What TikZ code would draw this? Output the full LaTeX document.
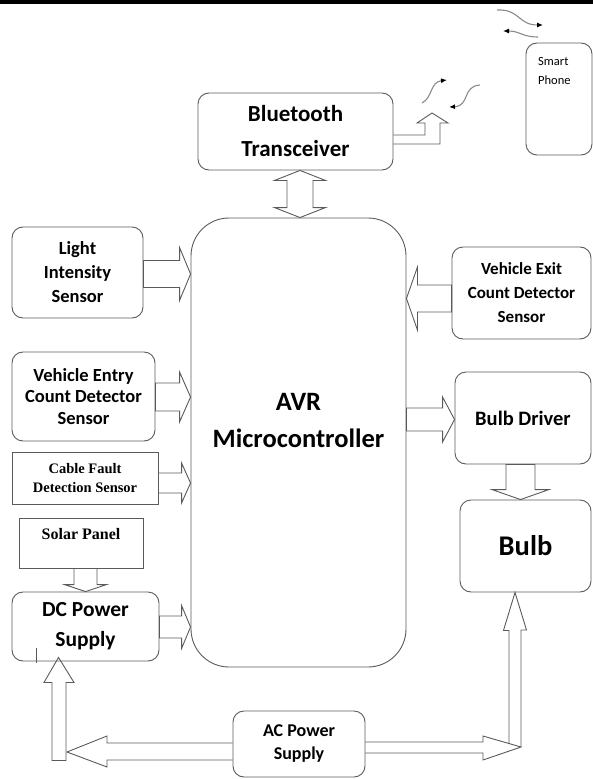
\documentclass[tikz,border=0pt]{standalone}
\usepackage{fontspec}
\setmainfont{Carlito}
\newfontfamily\serifbold{Liberation Serif}
\usetikzlibrary{calc,arrows.meta}
\definecolor{linegray}{HTML}{5A5A5A}
\definecolor{wavegray}{HTML}{8A8A8A}

% outlined block arrow: #1 start, #2 tip, #3 half shaft width, #4 half head width, #5 head length
\newcommand\blkarrow[5]{%
  \coordinate (ba-h) at ($(#2)!#5!(#1)$);
  \draw[blk] ($(#1)!#3!90:(#2)$) -- ($(ba-h)!#3!-90:(#1)$) -- ($(ba-h)!#4!-90:(#1)$)
    -- (#2) -- ($(ba-h)!#4!90:(#1)$) -- ($(ba-h)!#3!90:(#1)$) -- ($(#1)!#3!-90:(#2)$) -- cycle;}

\begin{document}
\begin{tikzpicture}[x=1pt,y=-1pt,
  box/.style={draw=linegray, line width=0.9pt, rounded corners=11pt, inner sep=0pt, align=center},
  sqbox/.style={draw=linegray, line width=0.9pt, inner sep=0pt, align=center},
  blk/.style={draw=linegray, line width=0.9pt, line join=miter},
  wave/.style={draw=wavegray, line width=1.1pt, -{Latex[length=6pt,width=5pt,black]}},
  fnt/.style 2 args={font=\fontsize{#1}{#2}\selectfont\bfseries},
]
\useasboundingbox (0,0) rectangle (593,779);
\fill[black] (0,0) rectangle (593,4);

% ---------- blocks ----------
\node[box, minimum width=131pt, minimum height=91pt, fnt={18.5}{24}] (light) at (77.5,272.5) {Light\\Intensity\\Sensor};
\node[box, minimum width=143pt, minimum height=89pt, fnt={18.5}{21.5}] (entry) at (83.5,396.5) {Vehicle Entry\\Count Detector\\Sensor};
\node[sqbox, minimum width=146pt, minimum height=52pt, font=\fontsize{14.5}{19}\selectfont\serifbold\bfseries] (cable) at (85,478) {Cable Fault\\Detection Sensor};
\node[sqbox, minimum width=124pt, minimum height=50pt] (solar) at (81,543) {};
\node[font=\fontsize{16}{19}\selectfont\serifbold\bfseries, inner sep=0pt] (solartxt) at (81,534) {Solar Panel};
\node[box, minimum width=147pt, minimum height=69pt, fnt={21.5}{30}] (dc) at (85.5,626.5) {DC Power\\Supply};

\node[box, minimum width=195pt, minimum height=77pt, fnt={23}{35}] (bt) at (295.5,131.5) {Bluetooth\\Transceiver};
\node[box, rounded corners=38pt, minimum width=215pt, minimum height=449pt] (avr) at (298.5,442.5) {};
\node[fnt={26.5}{37}, align=center, inner sep=0pt] (avrtxt) at (298.5,420) {AVR\\Microcontroller};
\node[box, minimum width=132pt, minimum height=66pt, fnt={18}{23}] (ac) at (299,744) {AC Power\\Supply};

\node[box, minimum width=66pt, minimum height=112pt] (phone) at (559,99) {};
\node[anchor=west, align=left, inner sep=0pt, font=\fontsize{12.5}{19}\selectfont] (phonetxt) at (538,70.5) {Smart\\Phone};

\node[box, minimum width=139pt, minimum height=92pt, fnt={17}{24}] (exit) at (521.5,293) {Vehicle Exit\\Count Detector\\Sensor};
\node[box, minimum width=136pt, minimum height=92pt, fnt={20.5}{24}] (driver) at (523,418) {Bulb Driver};
\node[box, minimum width=131pt, minimum height=92pt, fnt={28.5}{30}] (bulb) at (525.5,546) {Bulb};

% ---------- levels of the block arrows ----------
\coordinate (yL) at (0,274);
\coordinate (yE) at (0,397);
\coordinate (yC) at (0,483);
\coordinate (yD) at (0,627);
\coordinate (yX) at (0,298.5);
\coordinate (yB) at (0,419.5);
\coordinate (xS) at (85.5,0);
\coordinate (xB) at (520.5,0);
\coordinate (xd) at (300,0);
\coordinate (xv) at (515,0);
\coordinate (xu) at (58.5,0);

% inputs into the controller
\blkarrow{light.east |- yL}{avr.west |- yL}{13.5pt}{26.5pt}{11pt}
\blkarrow{entry.east |- yE}{avr.west |- yE}{14pt}{25pt}{11pt}
\blkarrow{cable.east |- yC}{avr.west |- yC}{10pt}{20pt}{9pt}
\blkarrow{dc.east |- yD}{avr.west |- yD}{11pt}{21.5pt}{9pt}
\blkarrow{exit.west |- yX}{avr.east |- yX}{13.5pt}{31.5pt}{11pt}
% outputs
\blkarrow{avr.east |- yB}{driver.west |- yB}{11.5pt}{22.5pt}{12pt}
\blkarrow{driver.south -| xB}{bulb.north -| xB}{14.5pt}{28.5pt}{10pt}
\blkarrow{solar.south -| xS}{dc.north -| xS}{11.5pt}{21pt}{7pt}

% two-way link between Bluetooth and controller
\coordinate (dT) at (bt.south -| xd);
\coordinate (dB) at (avr.north -| xd);
\draw[blk] (dT) -- ($(dT)+(25.5,10)$) -- ($(dT)+(13,10)$) -- ($(dB)+(13,-10)$) -- ($(dB)+(25.5,-10)$)
  -- (dB) -- ($(dB)+(-25.5,-10)$) -- ($(dB)+(-13,-10)$) -- ($(dT)+(-13,10)$) -- ($(dT)+(-25.5,10)$) -- cycle;

% Bluetooth antenna output
\coordinate (sig) at (432,113);
\coordinate (b1) at ($(sig)+(-7,22)$);
\coordinate (b2) at ($(sig)+(8,31)$);
\draw[blk] (bt.east |- b1) -- (b1) -- ++(0,-12) -- ++(-8,0) -- (sig) -- ++(16,10) -- ++(-8,0) -- (b2) -- (bt.east |- b2);

% AC supply to bulb
\coordinate (tipR) at (521,747);
\coordinate (r1) at ($(tipR)+(-38,-5)$);
\coordinate (r2) at ($(tipR)+(-38,6)$);
\draw[blk] (ac.east |- r1) -- (r1) -- ++(0,-6) -- (tipR) -- ++(-38,13) -- ++(0,-7) -- (ac.east |- r2);
\draw[blk] (tipR) -- ++(0,-117) -- ++(5.5,0) -- (bulb.south -| xv) -- ++(-11.5,38) -- ++(5.5,0) -- ++(0,113.5);

% AC supply to DC supply
\coordinate (tipL) at (67,752);
\coordinate (l1) at ($(tipL)+(40,-9)$);
\coordinate (l2) at ($(tipL)+(40,8)$);
\draw[blk] (ac.west |- l1) -- (l1) -- ++(0,-7) -- (tipL) -- ++(40,15) -- ++(0,-7) -- (ac.west |- l2);
\coordinate (tipU) at ($(dc.south -| xu)+(0,-4)$);
\draw[blk] (tipU) -- ++(15.5,25) -- ++(-8,0) -- ++(0,78) -- ++(-14,0) -- ++(0,-78) -- ++(-8,0) -- cycle;
\draw[linegray, line width=0.8pt] (36,648) -- (36,663);

% wireless links
\draw[wave] (497,10) .. controls (520,9) and (518,25) .. (543,25);
\draw[wave] (538,37) .. controls (522,37) and (520,31) .. (503,31);
\draw[wave] (422,103) .. controls (433,97) and (430,82) .. (447,80);
\draw[wave] (480,85) .. controls (462,86) and (470,106) .. (449,107);
\end{tikzpicture}
\end{document}
